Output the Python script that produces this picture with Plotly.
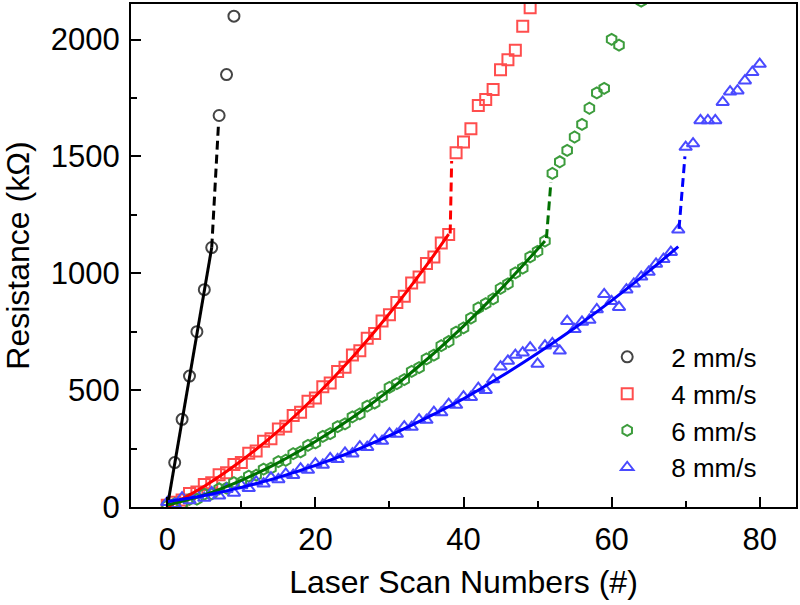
import plotly.graph_objects as go

# ---- data ----
x2 = [0, 1, 2, 3, 4, 5, 6, 7, 8, 9]
r2 = [8, 190, 375, 560, 750, 930, 1110, 1675, 1850, 2100]
fit2_x = [0, 6]
fit2_y = [0, 1110]
dash2_x = [6.0, 6.9]
dash2_y = [1110, 1630]

x4 = list(range(0, 50))
r4 = [8, 20, 30, 58, 64, 96, 104, 138, 146, 182, 190, 230, 240, 281, 292, 334, 346, 391, 405, 452,
      466, 514, 530, 580, 598, 650, 668, 722, 742, 796, 822, 875, 902, 958, 984, 1042, 1070, 1130, 1166,
      1516, 1562, 1618, 1718, 1743, 1786, 1871, 1913, 1954, 2057, 2136]
fit4_x = [0, 5, 10, 15, 20, 25, 30, 35, 38]
fit4_y = [0, 89, 198, 326, 474, 641, 828, 1034, 1167]
dash4_x = [38.2, 38.4]
dash4_y = [1170, 1480]

x6 = list(range(0, 62)) + [64]
r6 = [5, 14, 13, 33, 34, 55, 56, 78, 81, 104, 106, 132, 136, 162, 166, 194, 200, 228, 236, 264,
      274, 302, 314, 344, 356, 386, 398, 432, 445, 472, 512, 528, 545, 580, 596, 634, 650, 690, 708, 748,
      766, 808, 852, 870, 890, 935, 955, 1002, 1022, 1070, 1094, 1138,
      1427, 1477, 1526, 1583, 1637, 1706, 1772, 1791, 2001, 1976, 2164]
fit6_x = [0, 5, 10, 15, 20, 25, 30, 35, 40, 45, 51]
fit6_y = [8, 52, 114, 190, 280, 383, 500, 630, 774, 931, 1138]
dash6_x = [51.2, 51.8]
dash6_y = [1150, 1390]

x8 = list(range(0, 81))
r8 = [20, 12, 40, 28, 50, 38, 62, 48, 76, 60, 92, 80, 108, 100, 126, 118, 142, 136, 164, 158,
      186, 180, 208, 204, 232, 228, 258, 256, 286, 282, 314, 312, 344, 342, 374, 372, 406, 404, 440, 436,
      472, 470, 508, 500, 545, 600, 625, 650, 660, 682, 612, 690, 700, 668, 795, 760, 792, 800, 845, 910,
      880, 855, 930, 955, 985, 1005, 1040, 1060, 1090, 1186,
      1540, 1555, 1654, 1654, 1654, 1732, 1777, 1781, 1824, 1860, 1895]
fit8_x = [0, 5, 10, 15, 20, 25, 30, 35, 40, 45, 50, 55, 60, 65, 69]
fit8_y = [23, 49, 84, 127, 178, 237, 305, 381, 463, 557, 658, 766, 883, 1008, 1114]
dash8_x = [69.1, 69.9]
dash8_y = [1190, 1500]

names = ["2 mm/s", "4 mm/s", "6 mm/s", "8 mm/s"]
x_ticks = [0, 20, 40, 60, 80]
y_ticks = [0, 500, 1000, 1500, 2000]

FONT = "Liberation Sans, Arial, sans-serif"

fig = go.Figure()

series = [
    (x2, r2, "circle-open", "#454545"),
    (x4, r4, "square-open", "#ff4d4d"),
    (x6, r6, "hexagon-open", "#3c9c3c"),
    (x8, r8, "triangle-up-open", "#4a4aff"),
]
for (xs, ys, sym, col), nm in zip(series, names):
    fig.add_trace(go.Scatter(x=xs, y=ys, mode="markers", name=nm,
                             marker=dict(symbol=sym, size=11, color=col,
                                         line=dict(width=2, color=col))))

fits = [
    (fit2_x, fit2_y, dash2_x, dash2_y, "#000000"),
    (fit4_x, fit4_y, dash4_x, dash4_y, "#ff0000"),
    (fit6_x, fit6_y, dash6_x, dash6_y, "#007000"),
    (fit8_x, fit8_y, dash8_x, dash8_y, "#0000ff"),
]
for fx, fy, dx, dy, col in fits:
    fig.add_trace(go.Scatter(x=fx, y=fy, mode="lines", showlegend=False,
                             line=dict(color=col, width=3, shape="spline")))
    fig.add_trace(go.Scatter(x=dx, y=dy, mode="lines", showlegend=False,
                             line=dict(color=col, width=3, dash="9px,5px")))

fig.update_layout(
    width=800, height=605,
    margin=dict(l=131, r=3, t=2, b=98),
    paper_bgcolor="white", plot_bgcolor="white",
    font=dict(family=FONT, color="black"),
    showlegend=True,
    legend=dict(x=0.68, y=0.345, xanchor="left", yanchor="top",
                bgcolor="rgba(0,0,0,0)", font=dict(size=26, family=FONT),
                itemwidth=78, tracegroupgap=0),
)

fig.update_xaxes(
    range=[-4.9, 84.9], tickvals=x_ticks, ticktext=[str(v) for v in x_ticks],
    ticks="inside", ticklen=10, tickwidth=2, tickcolor="black",
    minor=dict(ticks="inside", ticklen=6, tickwidth=2, tickcolor="black", dtick=10, tick0=0),
    showline=True, linewidth=2, linecolor="black", mirror=True,
    showgrid=False, zeroline=False,
    tickfont=dict(size=31, family=FONT), ticklabelstandoff=4,
    title=dict(text="Laser Scan Numbers (#)", font=dict(size=32, family=FONT), standoff=14),
)
fig.update_yaxes(
    range=[0, 2152], tickvals=y_ticks, ticktext=[str(v) for v in y_ticks],
    ticks="inside", ticklen=10, tickwidth=2, tickcolor="black",
    minor=dict(ticks="inside", ticklen=6, tickwidth=2, tickcolor="black", dtick=250, tick0=0),
    showline=True, linewidth=2, linecolor="black", mirror=True,
    showgrid=False, zeroline=False,
    tickfont=dict(size=31, family=FONT), ticklabelstandoff=3,
    title=dict(text="Resistance (kΩ)", font=dict(size=32, family=FONT), standoff=14),
)

fig.write_html("out.html")
